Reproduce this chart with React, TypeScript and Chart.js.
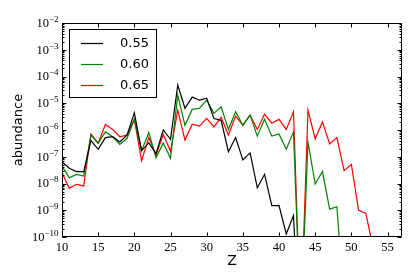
import React, { useEffect, useRef } from "react";
import { Chart, registerables } from "chart.js";

Chart.register(...registerables);

// Categories (atomic number Z)
const zValues = [
  10, 11, 12, 13, 14, 15, 16, 17, 18, 19, 20, 21, 22, 23, 24, 25, 26, 27, 28, 29,
  30, 31, 32, 33, 34, 35, 36, 37, 38, 39, 40, 41, 42, 43, 44, 45, 46, 47, 48, 49,
  50, 51, 52, 53,
];

const seriesLabels = ["0.55", "0.60", "0.65"];
const seriesColors = ["#000000", "#008000", "#ff0000"];

// abundance for 0.55 (Z = 10 .. 43)
const abund055 = [
  6.5e-8, 3.7e-8, 2.8e-8, 2.8e-8, 4.0e-7, 1.9e-7, 5.2e-7, 5.6e-7, 3.6e-7, 6.5e-7,
  4.4e-6, 1.7e-7, 3.3e-7, 1.3e-7, 1.0e-6, 4.5e-7, 4.8e-5, 6.5e-6, 1.7e-5, 1.3e-5,
  1.55e-5, 2.7e-6, 2.3e-6, 1.55e-7, 5.2e-7, 7.6e-8, 1.4e-7, 6.9e-9, 2.2e-8, 1.5e-9,
  1.5e-9, 1.3e-10, 6.3e-10, 3e-15,
];

// abundance for 0.60 (Z = 10 .. 49)
const abund060 = [
  4.5e-8, 1.65e-8, 2.2e-8, 1.9e-8, 6.5e-7, 3.2e-7, 8.5e-7, 5.6e-7, 2.9e-7, 4.9e-7,
  2.5e-6, 1.65e-7, 8.1e-7, 9.1e-8, 3.3e-7, 8.7e-8, 2.0e-5, 1.5e-6, 5.9e-6, 6.5e-6,
  1.3e-5, 4.2e-6, 7.4e-6, 1.05e-6, 4.8e-6, 1.5e-6, 3.6e-6, 5.9e-7, 2.5e-6, 5.9e-7,
  7.1e-7, 1.9e-7, 8.5e-7, 5e-14, 3.6e-7, 9.5e-9, 2.8e-8, 1.1e-9, 1.35e-9, 3e-13,
];

// abundance for 0.65 (Z = 10 .. 53)
const abund065 = [
  2.5e-8, 6.6e-9, 9.3e-9, 8.1e-9, 7.1e-7, 3.2e-7, 1.6e-6, 1.05e-6, 5.6e-7, 6.5e-7,
  2.5e-6, 7.1e-8, 5.2e-7, 1.15e-7, 6.8e-7, 1.6e-7, 5.5e-6, 4.2e-7, 1.65e-6, 1.4e-6,
  2.7e-6, 1.3e-6, 3.0e-6, 6.5e-7, 3.3e-6, 1.5e-6, 3.6e-6, 1.05e-6, 3.9e-6, 1.8e-6,
  2.5e-6, 1.05e-6, 4.8e-6, 5e-14, 5.5e-6, 4.7e-7, 2.0e-6, 3.0e-7, 5.2e-7, 3.0e-8,
  5.2e-8, 1.0e-9, 7.8e-10, 4e-11,
];

const xTickValues = [10, 15, 20, 25, 30, 35, 40, 45, 50, 55];
// y tick labels: 10^exponent
const yTickBase = "10";
const yTickExponents = ["−10", "−9", "−8", "−7", "−6", "−5", "−4", "−3", "−2"];
const yTickValues = [1e-10, 1e-9, 1e-8, 1e-7, 1e-6, 1e-5, 1e-4, 1e-3, 1e-2];

const allSeries = [abund055, abund060, abund065];

const framePlugin = {
  id: "mplFrame",
  afterDraw(chart: any) {
    const { ctx, chartArea: a, scales } = chart;
    const x = scales.x;
    const y = scales.y;
    const L = Math.round(a.left) + 0.5;
    const R = Math.round(a.right) - 0.5;
    const T = Math.round(a.top) + 0.5;
    const B = Math.round(a.bottom) - 0.5;
    ctx.save();
    ctx.strokeStyle = "#000";
    ctx.lineWidth = 1;
    ctx.beginPath();
    ctx.rect(L, T, R - L, B - T);
    ctx.stroke();
    ctx.beginPath();
    for (const t of xTickValues) {
      const px = Math.round(x.getPixelForValue(t)) + 0.5;
      ctx.moveTo(px, B);
      ctx.lineTo(px, B - 4);
      ctx.moveTo(px, T);
      ctx.lineTo(px, T + 4);
    }
    for (let e = -10; e <= -2; e++) {
      for (let m = 1; m <= 9; m++) {
        const v = m * Math.pow(10, e);
        if (v > 1.0001e-2) break;
        const py = Math.round(y.getPixelForValue(v)) + 0.5;
        const len = m === 1 ? 4 : 2;
        ctx.moveTo(L, py);
        ctx.lineTo(L + len, py);
        ctx.moveTo(R, py);
        ctx.lineTo(R - len, py);
      }
    }
    ctx.stroke();

    // y tick labels with superscript exponents
    ctx.fillStyle = "#000";
    ctx.textBaseline = "middle";
    ctx.textAlign = "left";
    const rightEdge = a.left - 3.5;
    yTickValues.forEach((v, i) => {
      const py = y.getPixelForValue(v);
      ctx.font = "9px 'Liberation Serif'";
      const exp = yTickExponents[i];
      const wE = ctx.measureText(exp).width;
      ctx.fillText(exp, rightEdge - wE, py - 3.5);
      ctx.font = "12.5px 'Liberation Serif'";
      const wB = ctx.measureText(yTickBase).width;
      ctx.fillText(yTickBase, rightEdge - wE - wB, py + 0.5);
    });

    // legend box
    const bx = 69.5, by = 29.5, bw = 87, bh = 68;
    ctx.fillStyle = "#fff";
    ctx.fillRect(bx, by, bw, bh);
    ctx.strokeStyle = "#000";
    ctx.lineWidth = 1;
    ctx.strokeRect(bx, by, bw, bh);
    const rows = [42.5, 63.5, 85];
    ctx.font = "13px 'DejaVu Sans'";
    ctx.textBaseline = "middle";
    ctx.textAlign = "left";
    chart.data.datasets.forEach((ds: any, i: number) => {
      const ry = Math.round(rows[i]) + 0.5;
      ctx.strokeStyle = ds.borderColor;
      ctx.lineWidth = 1.2;
      ctx.beginPath();
      ctx.moveTo(81, ry);
      ctx.lineTo(103, ry);
      ctx.stroke();
      ctx.fillStyle = "#000";
      ctx.fillText(ds.label, 120, ry + 0.5);
    });
    ctx.restore();
  },
};

export default function App() {
  const canvasRef = useRef<HTMLCanvasElement | null>(null);

  useEffect(() => {
    const canvas = canvasRef.current;
    if (!canvas) return;
    const datasets = allSeries.map((arr, i) => ({
      label: seriesLabels[i],
      data: arr.map((v, j) => ({ x: zValues[j], y: v })),
      borderColor: seriesColors[i],
      backgroundColor: seriesColors[i],
      borderWidth: 1.2,
      pointRadius: 0,
      tension: 0,
      fill: false,
    }));
    const chart = new Chart(canvas, {
      type: "line",
      data: { datasets },
      plugins: [framePlugin],
      options: {
        animation: false,
        responsive: false,
        maintainAspectRatio: false,
        devicePixelRatio: 1,
        layout: { padding: { top: 23, right: 13, left: 0, bottom: 0 } },
        plugins: {
          legend: { display: false },
          tooltip: { enabled: false },
        },
        scales: {
          x: {
            type: "linear",
            min: 10,
            max: 57,
            afterBuildTicks: (s: any) => {
              s.ticks = xTickValues.map((v) => ({ value: v }));
            },
            afterFit: (s: any) => {
              s.height = 43;
            },
            grid: { display: false, drawTicks: false },
            border: { display: false },
            ticks: {
              autoSkip: false,
              maxRotation: 0,
              padding: 3,
              color: "#000",
              font: { family: "'Liberation Serif'", size: 12.5 },
              callback: (v: any) => String(v),
            },
            title: {
              display: true,
              text: "Z",
              color: "#000",
              font: { family: "'DejaVu Sans'", size: 14 },
              padding: { top: 0, bottom: 10 },
            },
          },
          y: {
            type: "logarithmic",
            min: 1e-10,
            max: 1e-2,
            afterBuildTicks: (s: any) => {
              s.ticks = yTickValues.map((v) => ({ value: v }));
            },
            afterFit: (s: any) => {
              s.width = 62;
            },
            grid: { display: false, drawTicks: false },
            border: { display: false },
            ticks: { display: false },
            title: {
              display: true,
              text: "abundance",
              color: "#000",
              font: { family: "'DejaVu Sans'", size: 13 },
              padding: { top: 11, bottom: 0 },
            },
          },
        },
      },
    } as any);
    return () => chart.destroy();
  }, []);

  return (
    <div style={{ position: "fixed", left: 0, top: 0, width: 415, height: 280, background: "#fff" }}>
      <canvas ref={canvasRef} width={415} height={280} style={{ width: 415, height: 280 }} />
    </div>
  );
}
